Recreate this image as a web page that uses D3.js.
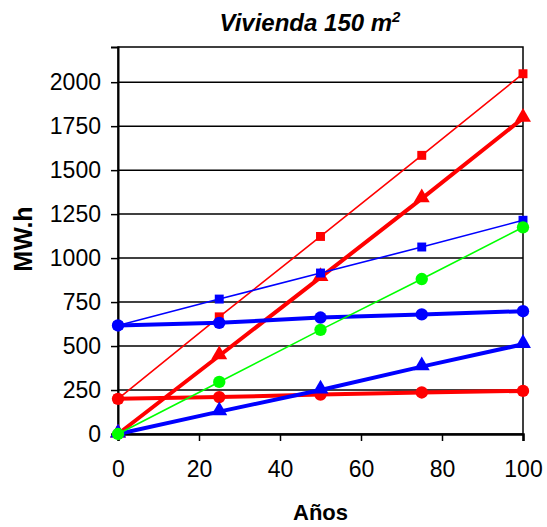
<!DOCTYPE html>
<html>
<head>
<meta charset="utf-8">
<script src="https://cdn.jsdelivr.net/npm/d3@7"></script>
<style>
  body { margin: 0; background: #fff; }
  svg { display: block; font-family: "Liberation Sans", Arial, sans-serif; }
</style>
</head>
<body>
<div id="chart"></div>
<script>
// --- DATA ---
const years = [0, 25, 50, 75, 100];
const redSquares = [200, 666, 1123, 1584, 2048];
const redTriangles = [0, 445, 890, 1338, 1795];
const blueSquares = [617, 767, 915, 1063, 1215];
const blueCircles = [617, 632, 662, 680, 698];
const greenCircles = [0, 296, 592, 881, 1175];
const blueTriangles = [0, 127, 250, 383, 510];
const redCircles = [200, 210, 224, 236, 245];
const xTicks = [0, 20, 40, 60, 80, 100];
const yTicks = [0, 250, 500, 750, 1000, 1250, 1500, 1750, 2000];

// drawing order: later ones on top
const series = [
  { values: redCircles, color: '#FF0000', width: 4, symbol: 'circle' },
  { values: redSquares, color: '#FF0000', width: 1.6, symbol: 'square' },
  { values: redTriangles, color: '#FF0000', width: 4, symbol: 'triangle' },
  { values: blueSquares, color: '#0000FF', width: 1.6, symbol: 'square' },
  { values: blueCircles, color: '#0000FF', width: 4, symbol: 'circle' },
  { values: blueTriangles, color: '#0000FF', width: 4, symbol: 'triangle' },
  { values: greenCircles, color: '#00FF00', width: 1.6, symbol: 'circle' }
];

const W = 547, H = 527;
const margin = { top: 47, right: 24, bottom: 93, left: 118 };
const width = W - margin.left - margin.right;
const height = H - margin.top - margin.bottom;

const svg = d3.select('#chart').append('svg')
  .attr('width', W).attr('height', H);

const g = svg.append('g')
  .attr('transform', `translate(${margin.left},${margin.top})`);

const x = d3.scaleLinear().domain([0, 100]).range([0, width]);
const y = d3.scaleLinear().domain([0, 2200]).range([height, 0]);

// grid
g.append('g')
  .selectAll('line').data(yTicks.filter(d => d > 0)).join('line')
  .attr('x1', 0).attr('x2', width)
  .attr('y1', d => y(d)).attr('y2', d => y(d))
  .attr('stroke', '#000').attr('stroke-width', 1.5);

// frame
g.append('rect')
  .attr('width', width).attr('height', height)
  .attr('fill', 'none').attr('stroke', '#000').attr('stroke-width', 1.5);

// axes
const yAxis = g.append('g')
  .call(d3.axisLeft(y).tickValues(yTicks).tickFormat(d3.format('d')).tickSize(7).tickPadding(10));
const xAxis = g.append('g')
  .attr('transform', `translate(0,${height})`)
  .call(d3.axisBottom(x).tickValues(xTicks).tickFormat(d3.format('d')).tickSize(7).tickPadding(20));

[xAxis, yAxis].forEach(ax => {
  ax.select('.domain').attr('stroke-width', 2);
  ax.selectAll('line').attr('stroke-width', 1.5);
  ax.selectAll('text')
    .style('font-family', '"Liberation Sans", Arial, sans-serif')
    .style('font-size', '23px')
    .style('fill', '#000');
});
xAxis.select('.domain').attr('stroke-width', 2.5);

// lines + markers
const line = d3.line().x((d, i) => x(years[i])).y(d => y(d));
const symbolType = { circle: d3.symbolCircle, square: d3.symbolSquare, triangle: d3.symbolTriangle };
const symbolSize = { circle: 120, square: 80, triangle: 110 };

series.forEach(s => {
  g.append('path')
    .datum(s.values)
    .attr('d', line)
    .attr('fill', 'none')
    .attr('stroke', s.color)
    .attr('stroke-width', s.width)
    .attr('stroke-linejoin', 'round');

  g.append('g')
    .selectAll('path').data(s.values).join('path')
    .attr('transform', (d, i) => `translate(${x(years[i])},${y(d) + (s.symbol === 'triangle' ? -1 : 0)})`)
    .attr('d', d3.symbol().type(symbolType[s.symbol]).size(symbolSize[s.symbol]))
    .attr('fill', s.color);
});

// title
const title = svg.append('text')
  .attr('x', 310).attr('y', 31)
  .attr('text-anchor', 'middle')
  .style('font-size', '24px')
  .style('font-weight', 'bold')
  .style('font-style', 'italic');
title.append('tspan').text('Vivienda 150 m');
title.append('tspan').attr('dy', -9).style('font-size', '15px').text('2');

// axis titles
svg.append('text')
  .attr('x', margin.left + width / 2).attr('y', 520)
  .attr('text-anchor', 'middle')
  .style('font-size', '22px').style('font-weight', 'bold')
  .text('Años');

svg.append('text')
  .attr('transform', 'translate(32,239) rotate(-90)')
  .attr('text-anchor', 'middle')
  .style('font-size', '25px').style('font-weight', 'bold')
  .text('MW.h');
</script>
</body>
</html>
